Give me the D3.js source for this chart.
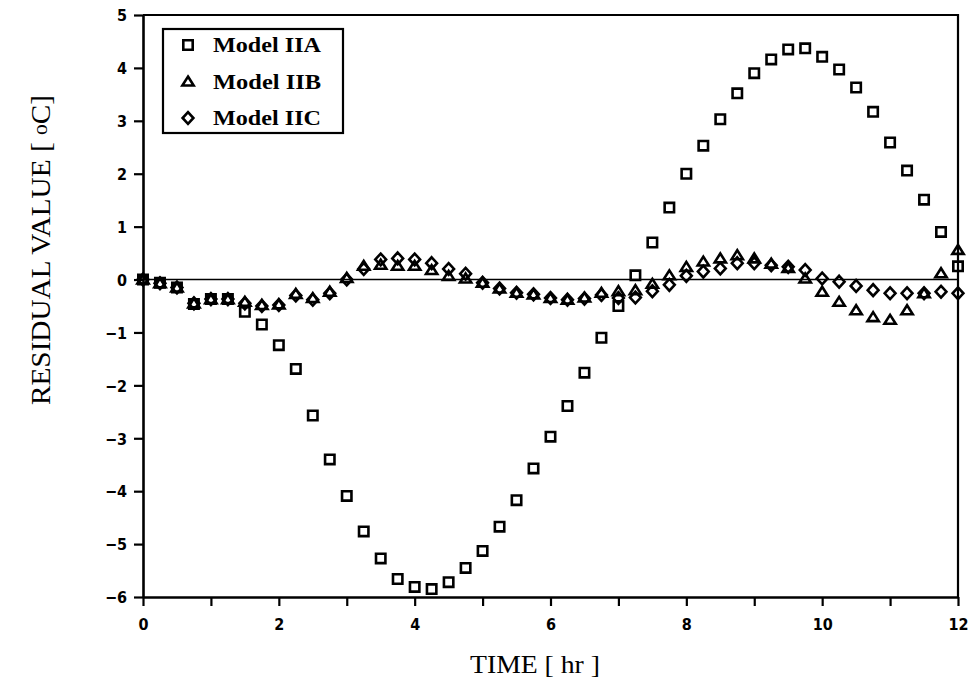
<!DOCTYPE html>
<html>
<head>
<meta charset="utf-8">
<script src="https://cdn.jsdelivr.net/npm/d3@7/dist/d3.min.js"></script>
<style>
  html, body { margin: 0; padding: 0; background: #fff; }
  svg { display: block; }
</style>
</head>
<body>
<script>
// Sampling times [hr]
const times = [0, 0.25, 0.5, 0.75, 1, 1.25, 1.5, 1.75, 2, 2.25, 2.5, 2.75,
  3, 3.25, 3.5, 3.75, 4, 4.25, 4.5, 4.75, 5, 5.25, 5.5, 5.75,
  6, 6.25, 6.5, 6.75, 7, 7.25, 7.5, 7.75, 8, 8.25, 8.5, 8.75,
  9, 9.25, 9.5, 9.75, 10, 10.25, 10.5, 10.75, 11, 11.25, 11.5, 11.75, 12];

// Residuals [oC] for each model
const modelIIA = [0, -0.06, -0.15, -0.46, -0.37, -0.37, -0.61, -0.85, -1.24, -1.69, -2.57, -3.40,
  -4.09, -4.76, -5.27, -5.66, -5.81, -5.85, -5.72, -5.45, -5.13, -4.67, -4.17, -3.57,
  -2.97, -2.39, -1.76, -1.10, -0.50, 0.08, 0.70, 1.36, 2.00, 2.53, 3.03, 3.52,
  3.90, 4.16, 4.35, 4.37, 4.21, 3.97, 3.63, 3.17, 2.59, 2.06, 1.51, 0.90, 0.25];

const modelIIB = [0, -0.07, -0.15, -0.45, -0.37, -0.37, -0.42, -0.48, -0.47, -0.27, -0.35, -0.23,
  0.03, 0.26, 0.28, 0.26, 0.26, 0.18, 0.07, 0.02, -0.06, -0.17, -0.25, -0.28,
  -0.35, -0.38, -0.34, -0.25, -0.22, -0.20, -0.08, 0.08, 0.24, 0.34, 0.40, 0.46,
  0.40, 0.30, 0.22, 0.02, -0.23, -0.42, -0.58, -0.71, -0.76, -0.58, -0.26, 0.12, 0.56];

const modelIIC = [0, -0.07, -0.15, -0.45, -0.37, -0.37, -0.45, -0.50, -0.48, -0.30, -0.38, -0.26,
  0.00, 0.20, 0.38, 0.40, 0.38, 0.31, 0.20, 0.11, -0.06, -0.17, -0.25, -0.28,
  -0.35, -0.38, -0.36, -0.29, -0.35, -0.34, -0.22, -0.10, 0.07, 0.15, 0.21, 0.31,
  0.31, 0.27, 0.24, 0.18, 0.02, -0.04, -0.12, -0.20, -0.26, -0.26, -0.26, -0.23, -0.26];

const seriesNames = ["Model IIA", "Model IIB", "Model IIC"];
const xTicks = [0, 1, 2, 3, 4, 5, 6, 7, 8, 9, 10, 11, 12];
const yTicks = [-6, -5, -4, -3, -2, -1, 0, 1, 2, 3, 4, 5];

const W = 969, H = 689;
const plot = { left: 143, right: 958, top: 15, bottom: 597 };

const svg = d3.select("body").append("svg").attr("width", W).attr("height", H);

const x = d3.scaleLinear().domain([0, 12]).range([plot.left, plot.right]);
const y = d3.scaleLinear().domain([-6, 5]).range([plot.bottom, plot.top]);

// Marker shapes
const shapes = {
  square: s => `M${-s},${-s}H${s}V${s}H${-s}Z`,
  triangle: s => `M0,${-s * 1.05}L${s * 1.2},${s * 0.85}H${-s * 1.2}Z`,
  diamond: s => `M0,${-s * 1.25}L${s * 1.15},0L0,${s * 1.25}L${-s * 1.15},0Z`
};
const shapeKeys = ["square", "triangle", "diamond"];
const markerSize = 4.7;

// Axes
const yAxis = d3.axisLeft(y).tickValues(yTicks).tickSize(9).tickSizeOuter(0).tickPadding(7)
  .tickFormat(d3.format("d"));
const xAxis = d3.axisBottom(x).tickValues(xTicks).tickSize(9).tickSizeOuter(0).tickPadding(13)
  .tickFormat(d => d % 2 === 0 ? d : "");

const gy = svg.append("g").attr("transform", `translate(${plot.left},0)`).call(yAxis);
const gx = svg.append("g").attr("transform", `translate(0,${plot.bottom})`).call(xAxis);
[gy, gx].forEach(g => {
  g.attr("font-family", "'DejaVu Sans Condensed', 'Liberation Sans Narrow', 'Liberation Sans', Arial, sans-serif")
    .attr("font-size", 16).attr("font-weight", "bold");
  g.select(".domain").attr("stroke", "#000").attr("stroke-width", 2.6);
  g.selectAll(".tick line").attr("stroke", "#000").attr("stroke-width", 2.2);
  g.selectAll(".tick text").attr("fill", "#000");
});
gy.selectAll(".tick text").attr("dy", "0.36em");

// Frame top and right
svg.append("path")
  .attr("d", `M${plot.left},${plot.top}H${plot.right}V${plot.bottom}`)
  .attr("fill", "none").attr("stroke", "#000").attr("stroke-width", 2.2);

// Zero reference line
svg.append("line")
  .attr("x1", x(0)).attr("x2", x(12)).attr("y1", y(0)).attr("y2", y(0))
  .attr("stroke", "#000").attr("stroke-width", 1.6);

// Data markers
const seriesData = [modelIIA, modelIIB, modelIIC];
seriesData.forEach((vals, i) => {
  svg.append("g").selectAll("path")
    .data(times.map((t, k) => ({ t, v: vals[k] })))
    .join("path")
    .attr("transform", d => `translate(${x(d.t)},${y(d.v)})`)
    .attr("d", shapes[shapeKeys[i]](markerSize))
    .attr("fill", "none")
    .attr("stroke", "#000")
    .attr("stroke-width", 2.6)
    .attr("stroke-linejoin", "miter");
});

// Legend
const lg = svg.append("g");
lg.append("rect").attr("x", 163).attr("y", 29).attr("width", 180).attr("height", 104)
  .attr("fill", "#fff").attr("stroke", "#000").attr("stroke-width", 2.2);
seriesNames.forEach((name, i) => {
  const cy = 45 + i * 36.5;
  lg.append("path").attr("transform", `translate(188,${cy})`)
    .attr("d", shapes[shapeKeys[i]](markerSize))
    .attr("fill", "none").attr("stroke", "#000").attr("stroke-width", 2.6);
  lg.append("text").attr("x", 213).attr("y", cy + 7)
    .attr("font-family", "'Liberation Serif', 'Times New Roman', serif")
    .attr("font-weight", "bold").attr("font-size", 22)
    .attr("textLength", 108).attr("lengthAdjust", "spacingAndGlyphs")
    .text(name);
});

// Axis titles
svg.append("text")
  .attr("x", 535).attr("y", 673)
  .attr("text-anchor", "middle")
  .attr("font-family", "'Liberation Serif', 'Times New Roman', serif")
  .attr("font-size", 25)
  .attr("textLength", 130).attr("lengthAdjust", "spacingAndGlyphs")
  .text("TIME  [ hr ]");

const yt = svg.append("text")
  .attr("transform", "translate(50,250) rotate(-90)")
  .attr("text-anchor", "middle")
  .attr("font-family", "'Liberation Serif', 'Times New Roman', serif")
  .attr("font-size", 27)
  .attr("textLength", 310).attr("lengthAdjust", "spacingAndGlyphs");
yt.append("tspan").text("RESIDUAL VALUE [ ");
yt.append("tspan").attr("font-size", 20).attr("dy", -3).text("o");
yt.append("tspan").attr("dy", 3).text("C]");
</script>
</body>
</html>
